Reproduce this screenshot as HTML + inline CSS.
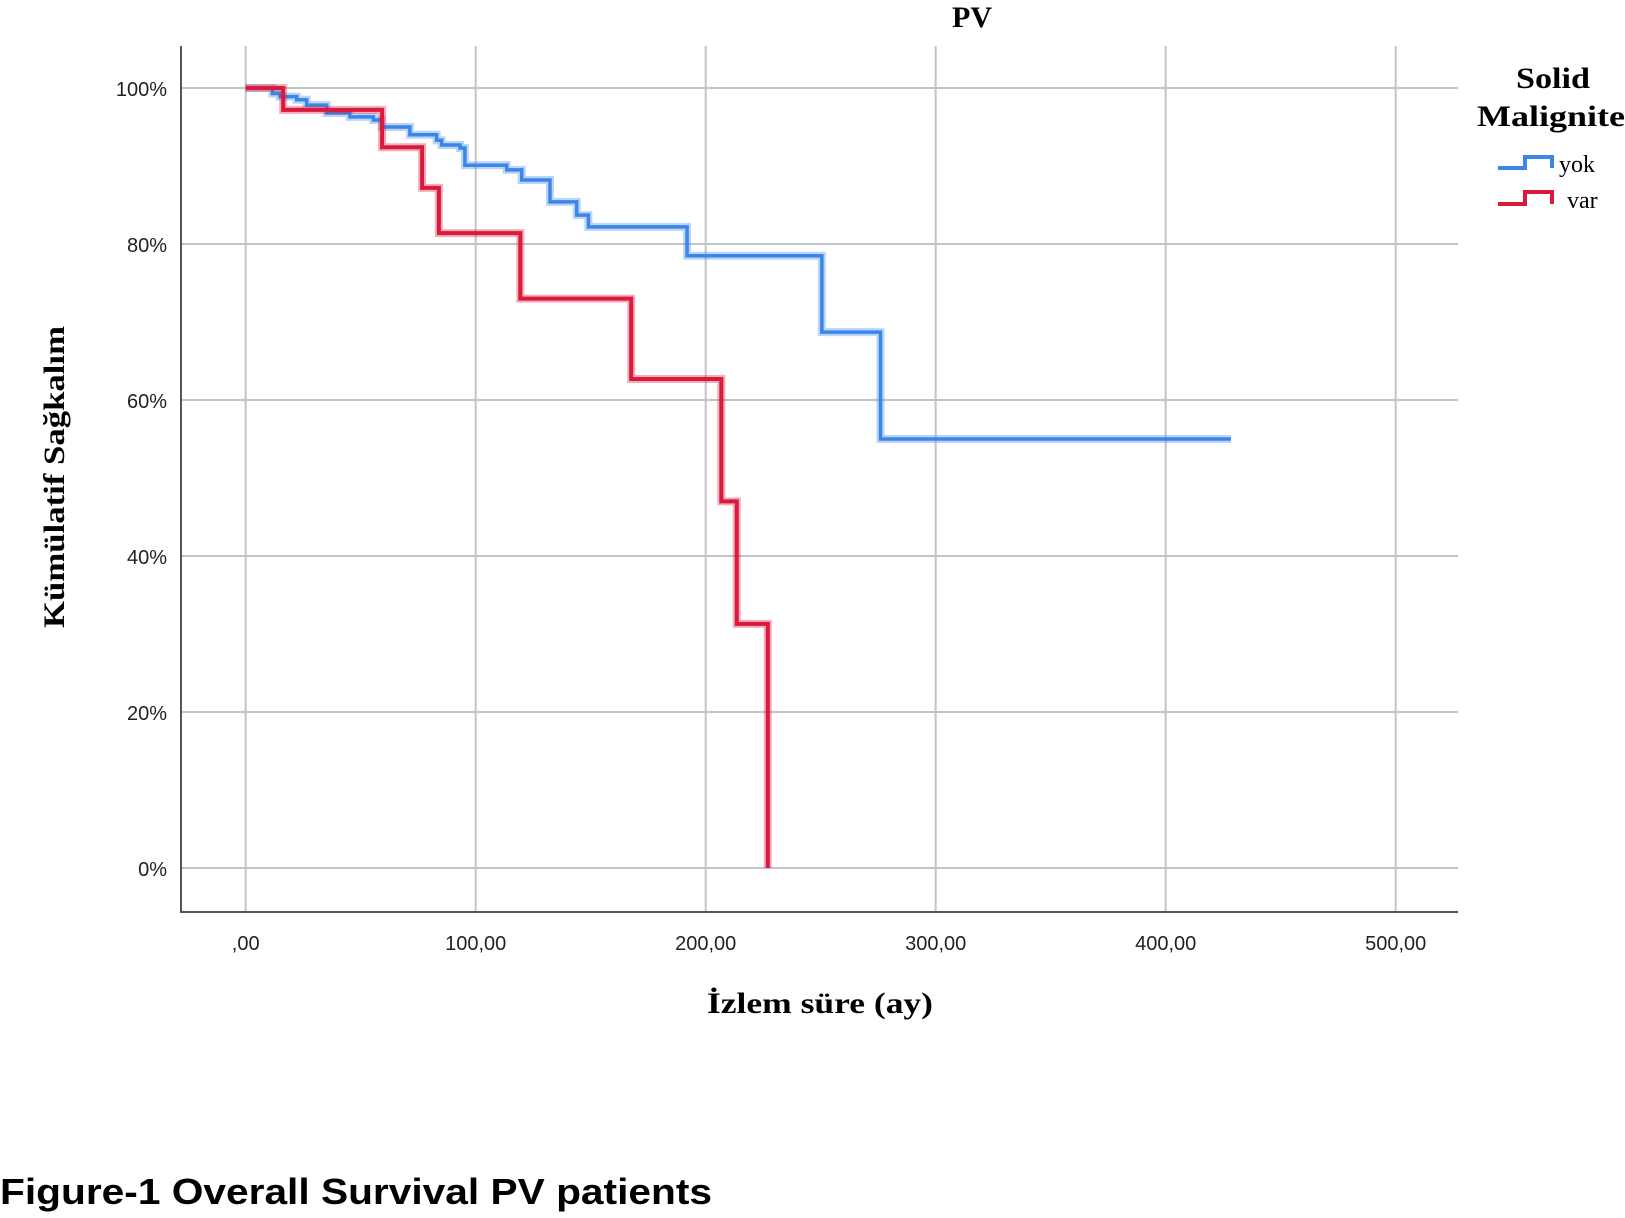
<!DOCTYPE html>
<html><head><meta charset="utf-8">
<style>
html,body{margin:0;padding:0;background:#fff;}
body{width:1625px;height:1218px;overflow:hidden;position:relative;}
svg{position:absolute;left:0;top:0;}
</style></head>
<body>
<svg id="chart" width="1625" height="1218" xmlns="http://www.w3.org/2000/svg">
<g id="grid"></g>
<g id="axes"></g>
<g id="series"></g>
<text x="972" y="27" text-anchor="middle" font-family="Liberation Serif, serif" font-weight="bold" font-size="30">PV</text>
<text transform="translate(64,477) rotate(-90)" text-anchor="middle" font-family="Liberation Serif, serif" font-weight="bold" font-size="30" textLength="302" lengthAdjust="spacingAndGlyphs">Kümülatif Sağkalım</text>
<text x="820" y="1013" text-anchor="middle" font-family="Liberation Serif, serif" font-weight="bold" font-size="30" textLength="226" lengthAdjust="spacingAndGlyphs">İzlem süre (ay)</text>
<g font-family="Liberation Serif, serif">
<text x="1553" y="88" text-anchor="middle" font-weight="bold" font-size="30" textLength="74" lengthAdjust="spacingAndGlyphs">Solid</text>
<text x="1551" y="126" text-anchor="middle" font-weight="bold" font-size="30" textLength="148" lengthAdjust="spacingAndGlyphs">Malignite</text>
<path d="M1498,168 H1525 V157 H1552 V168" fill="none" stroke="#3b86e8" stroke-width="4"/>
<text x="1559" y="172" font-size="24">yok</text>
<path d="M1498,204 H1525 V192 H1552 V204" fill="none" stroke="#d91a3c" stroke-width="4"/>
<text x="1567" y="208" font-size="24">var</text>
</g>
<text x="0" y="1204" font-family="Liberation Sans Narrow, Liberation Sans, sans-serif" font-weight="bold" font-size="36" textLength="712" lengthAdjust="spacingAndGlyphs">Figure-1 Overall Survival PV patients</text>
</svg>
<script>
const xTicks = [0, 100, 200, 300, 400, 500];
const xTickLabels = [",00", "100,00", "200,00", "300,00", "400,00", "500,00"];
const yTicks = [0, 20, 40, 60, 80, 100];
const yTickLabels = ["0%", "20%", "40%", "60%", "80%", "100%"];
const yokTimes = [0, 11.6, 14.9, 22.2, 26.5, 35.2, 45.3, 55.5, 59.1, 71.4, 83, 85.2, 93.2, 95.3, 113.5, 120, 132.3, 143.9, 149, 191.9, 250.5, 276, 428.4];
const yokSurv  = [100, 99.3, 98.9, 98.5, 97.8, 96.8, 96.3, 95.9, 95.0, 94.0, 93.3, 92.7, 92.3, 90.1, 89.5, 88.2, 85.4, 83.7, 82.2, 78.5, 68.7, 55.0, 55.0];
const varTimes = [0, 16.3, 59.3, 76.7, 84, 119.4, 167.6, 206.8, 213.5, 227, 227];
const varSurv  = [100, 97.2, 92.4, 87.2, 81.4, 73.0, 62.7, 47.0, 31.3, 31.3, 0];

const NS = "http://www.w3.org/2000/svg";
const X = t => 245.7 + t * 2.3;
const Y = s => 868 - s * 7.8;
const grid = document.getElementById('grid');
const axes = document.getElementById('axes');
const series = document.getElementById('series');
function mk(tag, attrs, parent){const e=document.createElementNS(NS,tag);for(const k in attrs)e.setAttribute(k,attrs[k]);parent.appendChild(e);return e;}

xTicks.forEach((t,i)=>{
  const l = mk('line',{x1:X(t),x2:X(t),y1:46,y2:912,stroke:'#c4c4c4','stroke-width':2},grid);
  
  
  const tx = mk('text',{x:X(t),y:950,'text-anchor':'middle','font-family':'Liberation Sans, sans-serif','font-size':20,fill:'#222'},axes);
  tx.textContent = xTickLabels[i];
  
  
});
yTicks.forEach((s,i)=>{
  const l = mk('line',{x1:181,x2:1458,y1:Y(s),y2:Y(s),stroke:'#c4c4c4','stroke-width':2},grid);
  
  
  const tx = mk('text',{x:167,y:Y(s)+8,'text-anchor':'end','font-family':'Liberation Sans, sans-serif','font-size':20,fill:'#222'},axes);
  tx.textContent = yTickLabels[i];
  
  
});
const ya = mk('line',{x1:181,x2:181,y1:46,y2:913,stroke:'#555','stroke-width':2},axes);


const xa = mk('line',{x1:180,x2:1458,y1:912,y2:912,stroke:'#555','stroke-width':2},axes);



function stepPath(ts, ss){
  let d = 'M' + X(ts[0]) + ',' + Y(ss[0]);
  for(let i=1;i<ts.length;i++){ d += ' H' + X(ts[i]) + ' V' + Y(ss[i]); }
  return d;
}
const yh = mk('path',{d:stepPath(yokTimes,yokSurv),fill:'none',stroke:'#3b86e8','stroke-opacity':0.35,'stroke-width':8},series);


const yl = mk('path',{d:stepPath(yokTimes,yokSurv),fill:'none',stroke:'#3b86e8','stroke-width':3.5},series);


const vh = mk('path',{d:stepPath(varTimes,varSurv),fill:'none',stroke:'#d91a3c','stroke-opacity':0.35,'stroke-width':8},series);


const vl = mk('path',{d:stepPath(varTimes,varSurv),fill:'none',stroke:'#d91a3c','stroke-width':4},series);


</script>
</body></html>
